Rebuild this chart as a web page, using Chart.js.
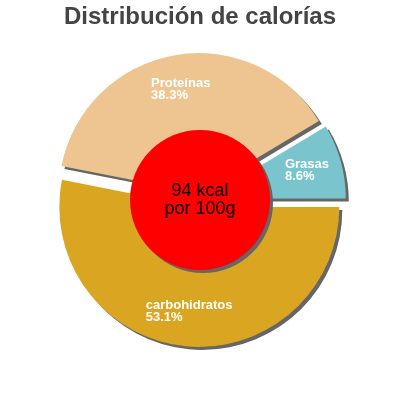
<!DOCTYPE html>
<html>
<head>
<meta charset="utf-8">
<script src="https://cdn.jsdelivr.net/npm/chart.js@4"></script>
<style>
  html, body { margin: 0; padding: 0; background: #fff; }
  #wrap { width: 400px; height: 400px; }
</style>
</head>
<body>
<div id="wrap"><canvas id="c" width="400" height="400"></canvas></div>
<script>
// ---- data ----
const titleText = 'Distribución de calorías';
const categories = ['carbohidratos', 'Proteínas', 'Grasas'];
const percentages = [53.1, 38.3, 8.6];
const centerLines = ['94 kcal', 'por 100g'];

// ---- styles ----
const sliceColors = ['#DAA520', '#EEC591', '#7AC5CD'];
const explode = [7, 7, 6];
const SHADOW = '#666666';
const FONT = '"Liberation Sans", Arial, sans-serif';

const sliceShadow = {
  id: 'sliceShadow',
  beforeDatasetDraw(chart, args) {
    const ctx = chart.ctx;
    ctx.save();
    ctx.shadowColor = SHADOW;
    ctx.shadowOffsetX = 3;
    ctx.shadowOffsetY = 3;
    ctx.shadowBlur = 0;
    args.meta.data.forEach((arc, i) => {
      const mid = (arc.startAngle + arc.endAngle) / 2;
      const d = explode[i] || 0;
      ctx.save();
      ctx.translate(Math.cos(mid) * d, Math.sin(mid) * d);
      arc.draw(ctx);
      ctx.restore();
    });
    ctx.restore();
    return false;
  },
  afterDatasetsDraw(chart) {
    const ctx = chart.ctx;
    const meta = chart.getDatasetMeta(0);
    const a0 = meta.data[0];
    const cx = a0.x, cy = a0.y, R = a0.outerRadius;

    // slice labels
    ctx.save();
    ctx.font = 'bold 13px ' + FONT;
    ctx.fillStyle = '#ffffff';
    ctx.textAlign = 'left';
    ctx.textBaseline = 'middle';
    meta.data.forEach((arc, i) => {
      const mid = (arc.startAngle + arc.endAngle) / 2;
      const r = R * 0.75 + (explode[i] || 0);
      const ax = cx + Math.cos(mid) * r;
      const ay = cy + Math.sin(mid) * r;
      const lines = [categories[i], percentages[i].toFixed(1) + '%'];
      const w = Math.max(...lines.map(t => ctx.measureText(t).width));
      const lx = ax - w / 2;
      ctx.fillText(lines[0], lx, ay - 6);
      ctx.fillText(lines[1], lx, ay + 6);
    });
    ctx.restore();

    // center circle
    ctx.save();
    ctx.shadowColor = SHADOW;
    ctx.shadowOffsetX = 3;
    ctx.shadowOffsetY = 3;
    ctx.shadowBlur = 0;
    ctx.fillStyle = '#FF0000';
    ctx.beginPath();
    ctx.arc(cx, cy, R * 0.5, 0, Math.PI * 2);
    ctx.fill();
    ctx.restore();

    ctx.save();
    ctx.font = '18px ' + FONT;
    ctx.fillStyle = '#000000';
    ctx.textAlign = 'center';
    ctx.textBaseline = 'alphabetic';
    ctx.fillText(centerLines[0], cx, cy - 4);
    ctx.fillText(centerLines[1], cx, cy + 14);
    ctx.restore();
  }
};

new Chart(document.getElementById('c'), {
  type: 'pie',
  data: {
    labels: categories,
    datasets: [{
      data: percentages,
      backgroundColor: sliceColors,
      borderWidth: 0,
      offset: 0
    }]
  },
  options: {
    responsive: false,
    animation: false,
    rotation: 90,
    radius: 140,
    layout: { padding: { top: 0, bottom: 32, left: 0, right: 0 } },
    plugins: {
      legend: { display: false },
      tooltip: { enabled: false },
      title: {
        display: true,
        text: titleText,
        color: '#444444',
        font: { family: FONT, size: 24, weight: 'bold', lineHeight: 1.2 },
        padding: { top: 3.2, bottom: 0 }
      }
    }
  },
  plugins: [sliceShadow]
});
</script>
</body>
</html>
